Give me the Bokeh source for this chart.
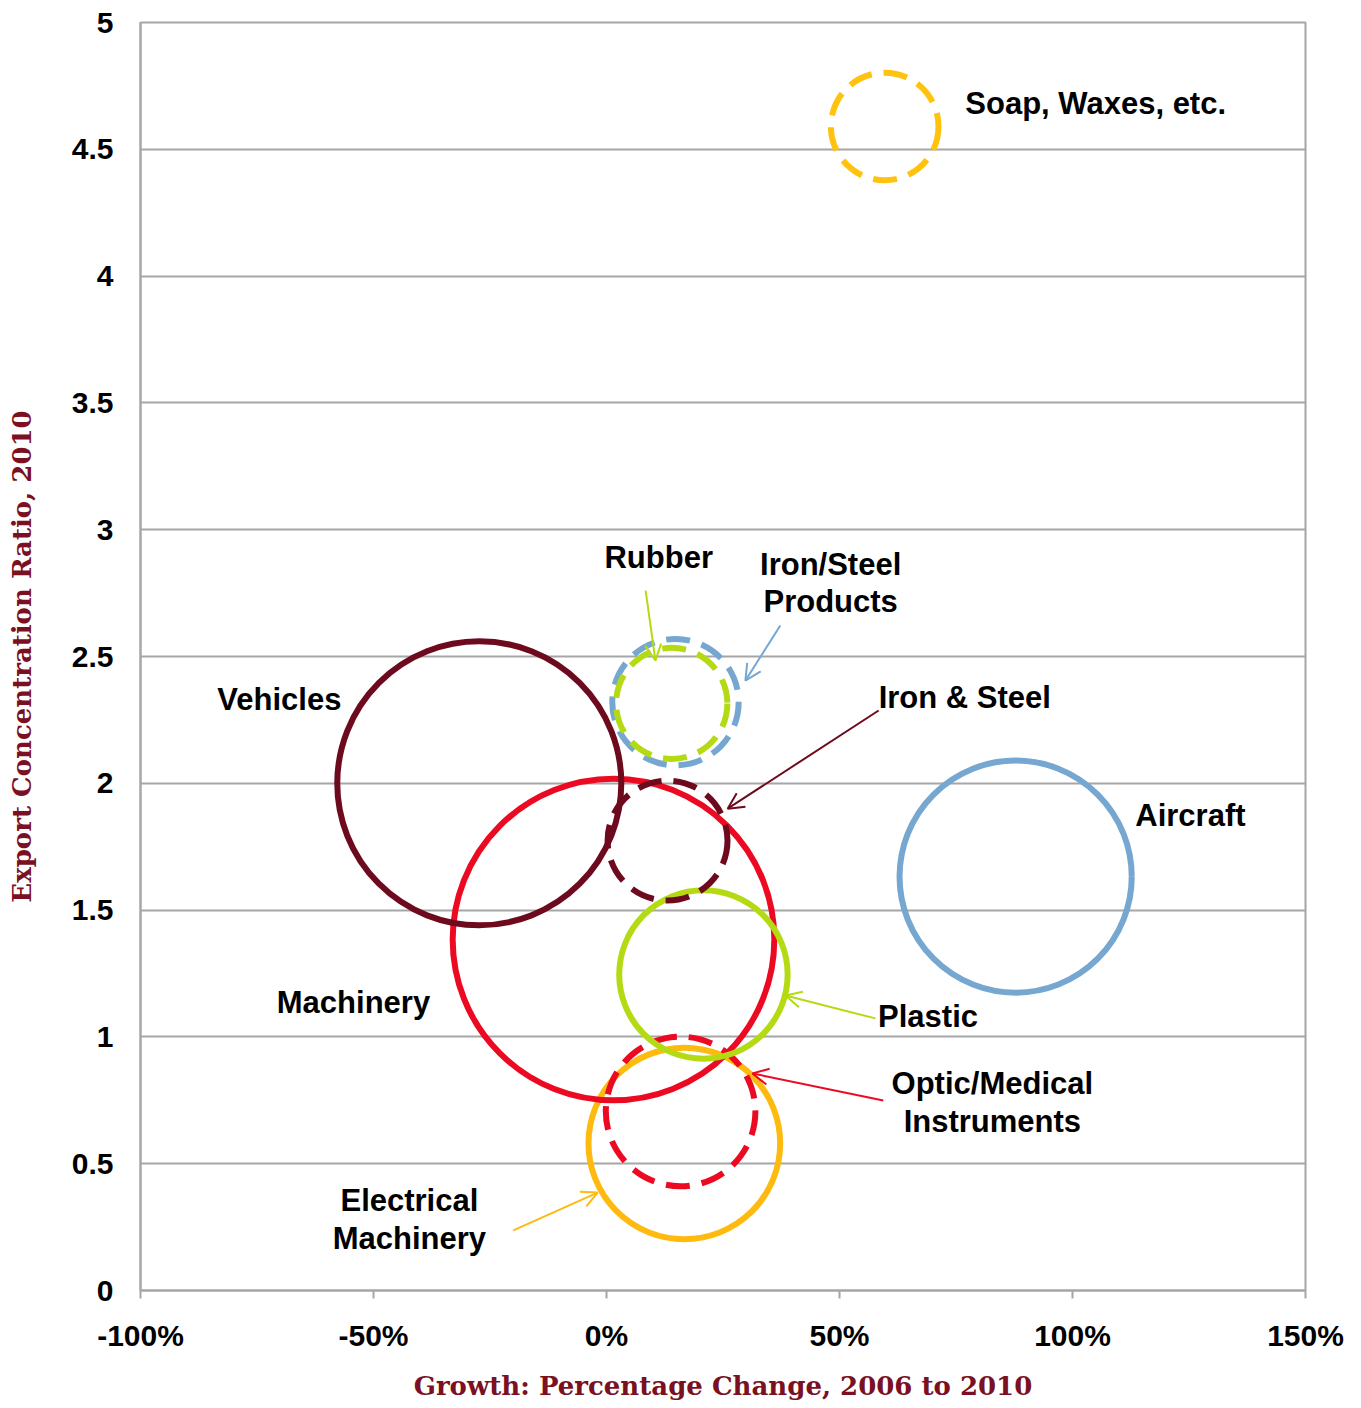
from bokeh.plotting import figure
from bokeh.models import ColumnDataSource, Range1d, FixedTicker, CustomJSTickFormatter, Arrow, OpenHead, Label
from bokeh.core.properties import value
from bokeh.embed import file_html
from bokeh.resources import INLINE
import numpy as np

# ---- data ----
categories = ["Electrical Machinery", "Optic/Medical Instruments", "Machinery", "Plastic",
              "Vehicles", "Iron & Steel", "Aircraft", "Iron/Steel Products", "Rubber",
              "Soap, Waxes, etc."]
growth_pct = [16.7, 15.9, 1.5, 20.8, -27.3, 13.1, 87.8, 14.8, 14.0, 59.7]
concentration = [0.58, 0.706, 1.384, 1.246, 2.0, 1.774, 1.632, 2.32, 2.315, 4.59]
bubble_value = [9.2, 5.6, 25.9, 7.1, 20.2, 3.6, 13.5, 4.0, 3.1, 2.9]
colors = ["#FFBA0F", "#EC0A22", "#EC0A22", "#B4DA14", "#6E0A1E", "#6E0A1E",
          "#76A7D0", "#76A7D0", "#B4DA14", "#FFC20E"]
dashed = [False, True, False, False, False, True, False, True, True, True]

x_ticks = [-100, -50, 0, 50, 100, 150]
y_ticks = [0, 0.5, 1, 1.5, 2, 2.5, 3, 3.5, 4, 4.5, 5]

# annotation labels: (text, x, y, align)
labels = [
    ("Soap, Waxes, etc.", 77.0, 4.68, "left"),
    ("Rubber", 11.2, 2.89, "center"),
    ("Iron/Steel\nProducts", 48.1, 2.79, "center"),
    ("Iron & Steel", 58.4, 2.34, "left"),
    ("Vehicles", -70.2, 2.33, "center"),
    ("Aircraft", 125.3, 1.873, "center"),
    ("Machinery", -54.3, 1.136, "center"),
    ("Plastic", 69.0, 1.08, "center"),
    ("Optic/Medical\nInstruments", 82.8, 0.741, "center"),
    ("Electrical\nMachinery", -42.3, 0.28, "center"),
]
# arrows: (x_start, y_start, x_end, y_end, color)
arrows = [
    (8.4, 2.76, 10.5, 2.484, "#B4DA14"),
    (37.3, 2.622, 29.8, 2.405, "#76A7D0"),
    (58.4, 2.287, 26.0, 1.90, "#6E0A1E"),
    (57.7, 1.073, 38.4, 1.163, "#B4DA14"),
    (59.4, 0.749, 31.3, 0.856, "#EC0A22"),
    (-20.0, 0.237, -1.9, 0.386, "#FFBA0F"),
]

GRID = "#A6A6A6"
TITLE_COLOR = "#7A1022"

p = figure(width=1345, height=1406, output_backend="svg", toolbar_location=None,
           x_range=Range1d(-100, 150), y_range=Range1d(0, 5),
           min_border_left=140, min_border_right=40, min_border_top=22, min_border_bottom=116)
p.outline_line_color = GRID
p.outline_line_width = 2
p.xgrid.grid_line_color = None
p.ygrid.grid_line_color = GRID
p.ygrid.grid_line_width = 2
p.ygrid.ticker = FixedTicker(ticks=y_ticks)

p.xaxis.ticker = FixedTicker(ticks=x_ticks)
p.yaxis.ticker = FixedTicker(ticks=y_ticks)
p.xaxis.formatter = CustomJSTickFormatter(code="return tick + '%';")
p.yaxis.formatter = CustomJSTickFormatter(code="return tick.toString();")
for ax in (p.xaxis[0], p.yaxis[0]):
    ax.axis_line_color = GRID
    ax.axis_line_width = 2
    ax.major_tick_line_color = GRID
    ax.major_tick_line_width = 2
    ax.minor_tick_line_color = None
    ax.major_label_text_font = "Liberation Sans"
    ax.major_label_text_font_style = "bold"
    ax.major_label_text_font_size = "30px"
    ax.major_label_text_color = "black"
    ax.axis_label_text_font = "DejaVu Serif"
    ax.axis_label_text_font_style = "bold"
    ax.axis_label_text_font_size = "26px"
    ax.axis_label_text_color = TITLE_COLOR
p.xaxis.major_tick_in = 0
p.xaxis.major_tick_out = 8
p.yaxis.major_tick_in = 0
p.yaxis.major_tick_out = 0
p.xaxis.major_label_standoff = 20
p.yaxis.major_label_standoff = 27
p.xaxis.axis_label = "Growth: Percentage Change, 2006 to 2010"
p.yaxis.axis_label = "Export Concentration Ratio, 2010"
p.xaxis.axis_label_standoff = 16
p.yaxis.axis_label_standoff = 32

scale = 31.6
for i in range(len(categories)):
    d = 2 * scale * np.sqrt(bubble_value[i])
    p.scatter([growth_pct[i]], [concentration[i]], marker="circle", size=d,
              fill_color=None, line_color=colors[i], line_width=6,
              line_dash="24 12" if dashed[i] else "solid")

for (x0, y0, x1, y1, c) in arrows:
    p.add_layout(Arrow(x_start=x0, y_start=y0, x_end=x1, y_end=y1, line_color=c, line_width=2,
                       end=OpenHead(size=16, line_color=c, line_width=2)))

for (t, x, y, al) in labels:
    p.add_layout(Label(x=x, y=y, text=t, text_align=al, text_baseline="middle",
                       text_font="Liberation Sans", text_font_style="bold",
                       text_font_size="31px", text_color="black", text_line_height=1.07))

open("out.html", "w").write(file_html(p, INLINE))
